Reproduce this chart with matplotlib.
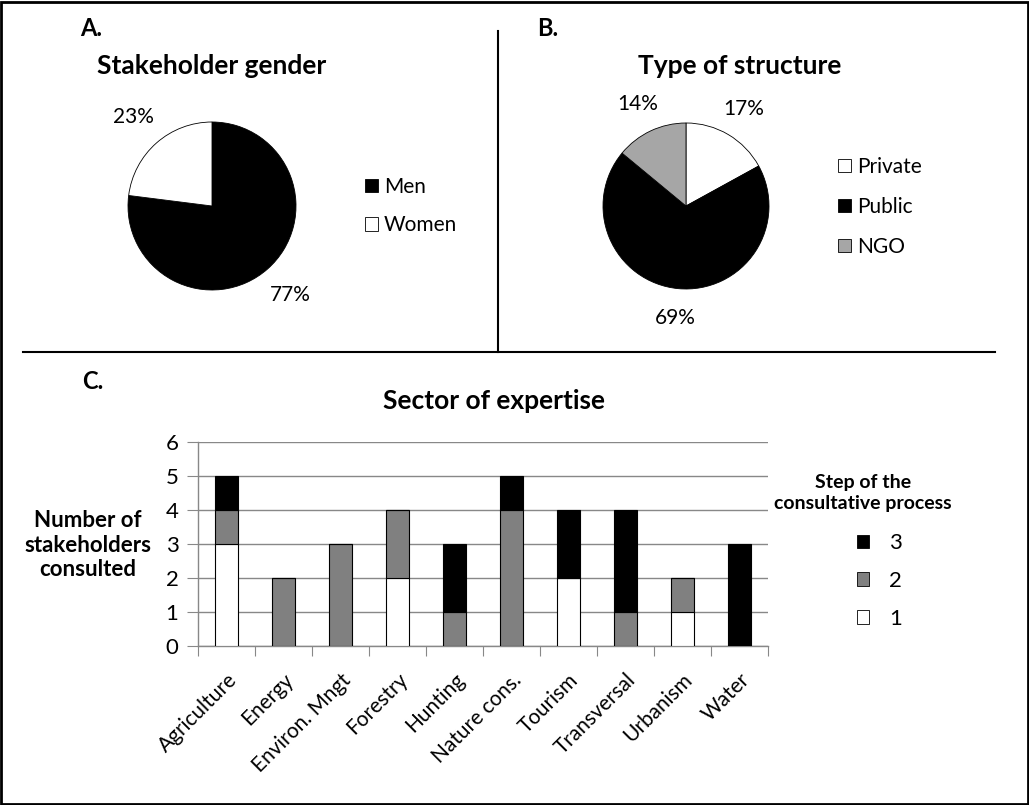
import matplotlib.pyplot as plt
from matplotlib.patches import Patch, Rectangle
from matplotlib.lines import Line2D
import numpy as np

plt.rcParams['font.family'] = ['Lato', 'DejaVu Sans']

# panel A
gender_labels = ['Men', 'Women']
gender_values = [77, 23]
gender_colors = ['black', 'white']

# panel B
structure_labels = ['Private', 'Public', 'NGO']
structure_values = [17, 69, 14]
structure_colors = ['white', 'black', '#a6a6a6']

# panel C
sectors = ['Agriculture', 'Energy', 'Environ. Mngt', 'Forestry', 'Hunting',
           'Nature cons.', 'Tourism', 'Transversal', 'Urbanism', 'Water']
step1 = [3, 0, 0, 2, 0, 0, 2, 0, 1, 0]
step2 = [1, 2, 3, 2, 1, 4, 0, 1, 1, 0]
step3 = [1, 0, 0, 0, 2, 1, 2, 3, 0, 3]
step_colors = {'1': 'white', '2': '#808080', '3': 'black'}

W, H = 1029, 805
fig = plt.figure(figsize=(W / 100, H / 100), dpi=100)


def rect(x0, y0, x1, y1):
    # pixel box (top-left origin) -> figure fraction
    return [x0 / W, 1 - y1 / H, (x1 - x0) / W, (y1 - y0) / H]


def fx(x):
    return x / W


def fy(y):
    return 1 - y / H


# frame and dividers
fig.add_artist(Rectangle((0.001, 0.001), 0.998, 0.997, transform=fig.transFigure,
                         fill=False, lw=2, ec='black'))
fig.add_artist(Line2D([fx(498), fx(498)], [fy(31), fy(352)], color='black', lw=1.5))
fig.add_artist(Line2D([fx(23), fx(995)], [fy(352), fy(352)], color='black', lw=1.5))

fig.text(fx(80), fy(29), 'A.', fontsize=17, fontweight='bold', va='center')
fig.text(fx(537), fy(29), 'B.', fontsize=17, fontweight='bold', va='center')
fig.text(fx(82), fy(381), 'C.', fontsize=17, fontweight='bold', va='center')

fig.text(fx(212), fy(66), 'Stakeholder gender', fontsize=19, fontweight='bold',
         ha='center', va='center')
fig.text(fx(740), fy(66), 'Type of structure', fontsize=19, fontweight='bold',
         ha='center', va='center')
fig.text(fx(494), fy(401), 'Sector of expertise', fontsize=19, fontweight='bold',
         ha='center', va='center')

# pie A
R = 84
axA = fig.add_axes(rect(212 - R, 206 - R, 212 + R, 206 + R))
axA.pie(gender_values, colors=gender_colors, startangle=90, counterclock=False,
        autopct='%d%%', pctdistance=1.41, textprops={'fontsize': 15},
        wedgeprops={'edgecolor': 'black', 'linewidth': 0.6})
axA.set_xlim(-1, 1)
axA.set_ylim(-1, 1)
handles = [Patch(facecolor=c, edgecolor='black', lw=0.6) for c in gender_colors]
axA.legend(handles, gender_labels, loc='center left', frameon=False,
           bbox_to_anchor=(fx(365), fy(206)), bbox_transform=fig.transFigure,
           fontsize=15, handlelength=0.6, handleheight=0.6, handletextpad=0.3,
           labelspacing=0.9, borderaxespad=0, borderpad=0)

# pie B
R = 83
axB = fig.add_axes(rect(686 - R, 206 - R, 686 + R, 206 + R))
axB.pie(structure_values, colors=structure_colors, startangle=90, counterclock=False,
        autopct='%d%%', pctdistance=1.36, textprops={'fontsize': 15},
        wedgeprops={'edgecolor': 'black', 'linewidth': 0.6})
axB.set_xlim(-1, 1)
axB.set_ylim(-1, 1)
handles = [Patch(facecolor=c, edgecolor='black', lw=0.6) for c in structure_colors]
axB.legend(handles, structure_labels, loc='center left', frameon=False,
           bbox_to_anchor=(fx(838), fy(207)), bbox_transform=fig.transFigure,
           fontsize=15, handlelength=0.6, handleheight=0.6, handletextpad=0.3,
           labelspacing=0.95, borderaxespad=0, borderpad=0)

# stacked bars C
axC = fig.add_axes(rect(198, 442, 768, 646))
x = np.arange(len(sectors))
s1 = np.array(step1)
s2 = np.array(step2)
s3 = np.array(step3)
bw = 0.4
axC.bar(x, s1, bw, color=step_colors['1'], edgecolor='black', lw=0.8, zorder=3)
axC.bar(x, s2, bw, bottom=s1, color=step_colors['2'], edgecolor='black', lw=0.8, zorder=3)
axC.bar(x, s3, bw, bottom=s1 + s2, color=step_colors['3'], edgecolor='black', lw=0.8, zorder=3)
axC.set_xlim(-0.5, len(sectors) - 0.5)
axC.set_ylim(0, 6)
axC.set_yticks(range(7))
axC.tick_params(axis='y', length=8, color='#888888', labelsize=16, pad=6)
axC.yaxis.grid(True, color='#888888', lw=1, zorder=0)
axC.set_xticks(np.arange(-0.5, len(sectors), 1))
axC.set_xticklabels([])
axC.set_xticks(x, minor=True)
axC.set_xticklabels(sectors, minor=True, rotation=45, ha='right',
                    rotation_mode='anchor', fontsize=15)
axC.tick_params(axis='x', which='major', length=7, color='#888888')
axC.tick_params(axis='x', which='minor', length=0, pad=17)
for side in ['top', 'right']:
    axC.spines[side].set_visible(False)
for side in ['left', 'bottom']:
    axC.spines[side].set_color('#888888')
    axC.spines[side].set_linewidth(1)

fig.text(fx(88), fy(545), 'Number of\nstakeholders\nconsulted', fontsize=16,
         fontweight='bold', ha='center', va='center', linespacing=1.2)

fig.text(fx(863), fy(493), 'Step of the\nconsultative process', fontsize=14,
         fontweight='bold', ha='center', va='center', linespacing=1.35)
handles = [Patch(facecolor=step_colors[k], edgecolor='black', lw=0.6) for k in ['3', '2', '1']]
axC.legend(handles, ['3', '2', '1'], loc='center left', frameon=False,
           bbox_to_anchor=(fx(857), fy(581)), bbox_transform=fig.transFigure,
           fontsize=16, handlelength=0.55, handleheight=0.55, handletextpad=0.9,
           labelspacing=0.8, borderaxespad=0, borderpad=0)

fig.savefig('out.png', dpi=100)
